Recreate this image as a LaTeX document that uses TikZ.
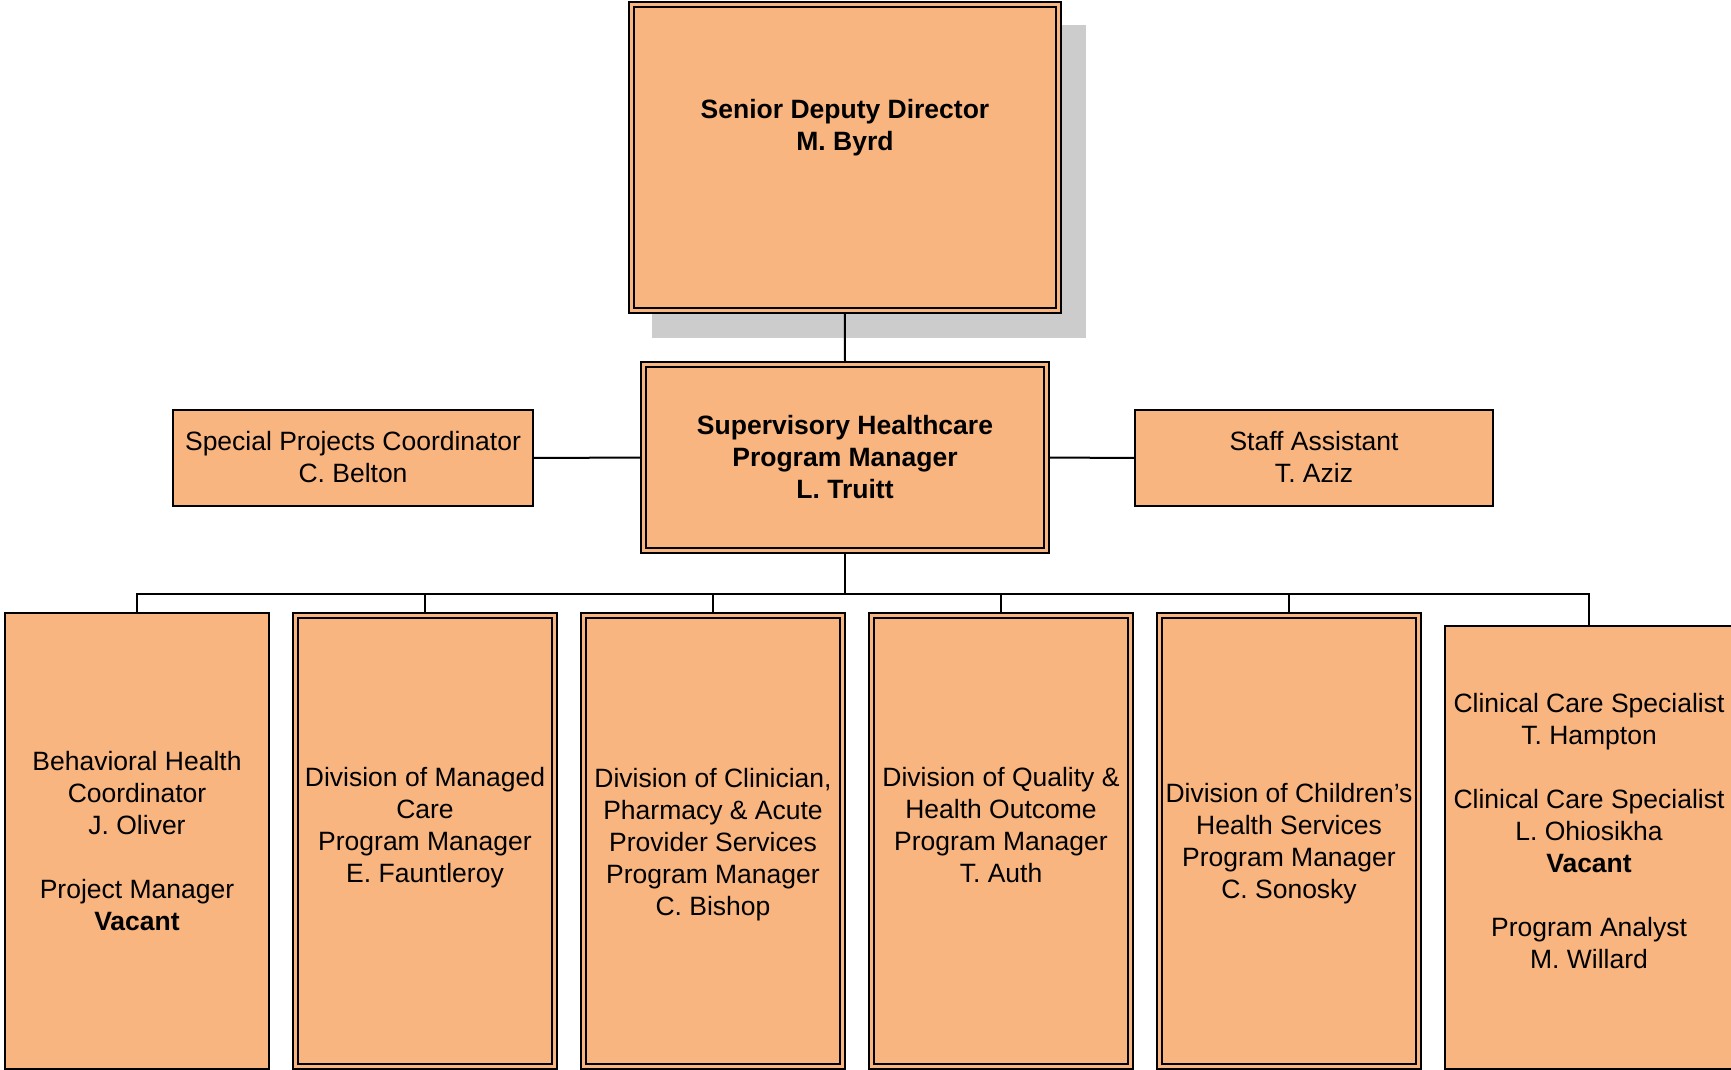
\documentclass[tikz,border=0pt]{standalone}
\usepackage{fontspec}
\setmainfont{Liberation Sans}
\usetikzlibrary{backgrounds}
\definecolor{boxfill}{RGB}{248,181,128}
\definecolor{shadowgray}{RGB}{204,204,204}
\begin{document}
\begin{tikzpicture}[x=1pt,y=-1pt,
  box/.style={draw=black, line width=2pt, fill=boxfill, inner sep=0pt, outer sep=0pt},
  dbox/.style={draw=black, line width=2pt, double=boxfill, double distance=3pt, fill=boxfill, inner sep=0pt, outer sep=0pt},
  txt/.style={align=center, inner sep=0pt, font=\fontsize{26.5}{32}\selectfont},
  btxt/.style={txt, font=\fontsize{26.5}{32}\selectfont\bfseries},
  link/.style={draw=black, line width=2pt}
]
\useasboundingbox (0,0) rectangle (1731,1070);

% boxes
\node[dbox, minimum width=427.3pt, minimum height=305.5pt] (top) at (844.85,157.75) {};
\node[dbox, minimum width=403pt, minimum height=186pt] (mid) at (845,457.5) {};
\node[box, minimum width=360pt, minimum height=96pt] (sp) at (353,458) {};
\node[box, minimum width=358pt, minimum height=96pt] (sa) at (1314,458) {};
\node[box, minimum width=264pt, minimum height=456pt] (b1) at (137,841) {};
\node[dbox, minimum width=259pt, minimum height=451pt] (b2) at (425,841) {};
\node[dbox, minimum width=259pt, minimum height=451pt] (b3) at (713,841) {};
\node[dbox, minimum width=259pt, minimum height=451pt] (b4) at (1001,841) {};
\node[dbox, minimum width=259pt, minimum height=451pt] (b5) at (1289,841) {};
\node[box, minimum width=289pt, minimum height=443pt] (b6) at (1589,847.5) {};

% texts
\node[btxt] (topT) at (845,128) {Senior Deputy Director\\M. Byrd};
\node[btxt] (midT) at (845,456.6) {Supervisory Healthcare\\Program Manager\\L. Truitt};
\node[txt] (spT) at (353,456.8) {Special Projects Coordinator\\C. Belton};
\node[txt] (saT) at (1314,456.8) {Staff Assistant\\T. Aziz};
\node[txt] (b1T) at (137,840.7) {Behavioral Health\\Coordinator\\J. Oliver\\[32pt]Project Manager\\\textbf{Vacant}};
\node[txt] (b2T) at (425,828) {Division of Managed\\Care\\Program Manager\\E. Fauntleroy};
\node[txt] (b3T) at (713,845) {Division of Clinician,\\Pharmacy \& Acute\\Provider Services\\Program Manager\\C. Bishop};
\node[txt] (b4T) at (1001,825.3) {Division of Quality \&\\Health Outcome\\Program Manager\\T. Auth};
\node[txt] (b5T) at (1289,844) {Division of Children’s\\Health Services\\Program Manager\\C. Sonosky};
\node[txt] (b6T) at (1589,831) {Clinical Care Specialist\\T. Hampton\\[32pt]Clinical Care Specialist\\L. Ohiosikha\\\textbf{Vacant}\\[32pt]Program Analyst\\M. Willard};

\coordinate (bus) at (845,594);

\begin{pgfonlayer}{background}
  \fill[shadowgray] (652,25) rectangle (1086,338);
  \draw[link] (top.south) -- (mid.north);
  \draw[link] (sp.east) -- (mid.west);
  \draw[link] (mid.east) -- (sa.west);
  \draw[link] (mid.south) -- (bus);
  \draw[link] (b1.north) |- (bus);
  \draw[link] (b2.north) |- (bus);
  \draw[link] (b3.north) |- (bus);
  \draw[link] (b4.north) |- (bus);
  \draw[link] (b5.north) |- (bus);
  \draw[link] (b6.north) |- (bus);
\end{pgfonlayer}
\end{tikzpicture}
\end{document}
